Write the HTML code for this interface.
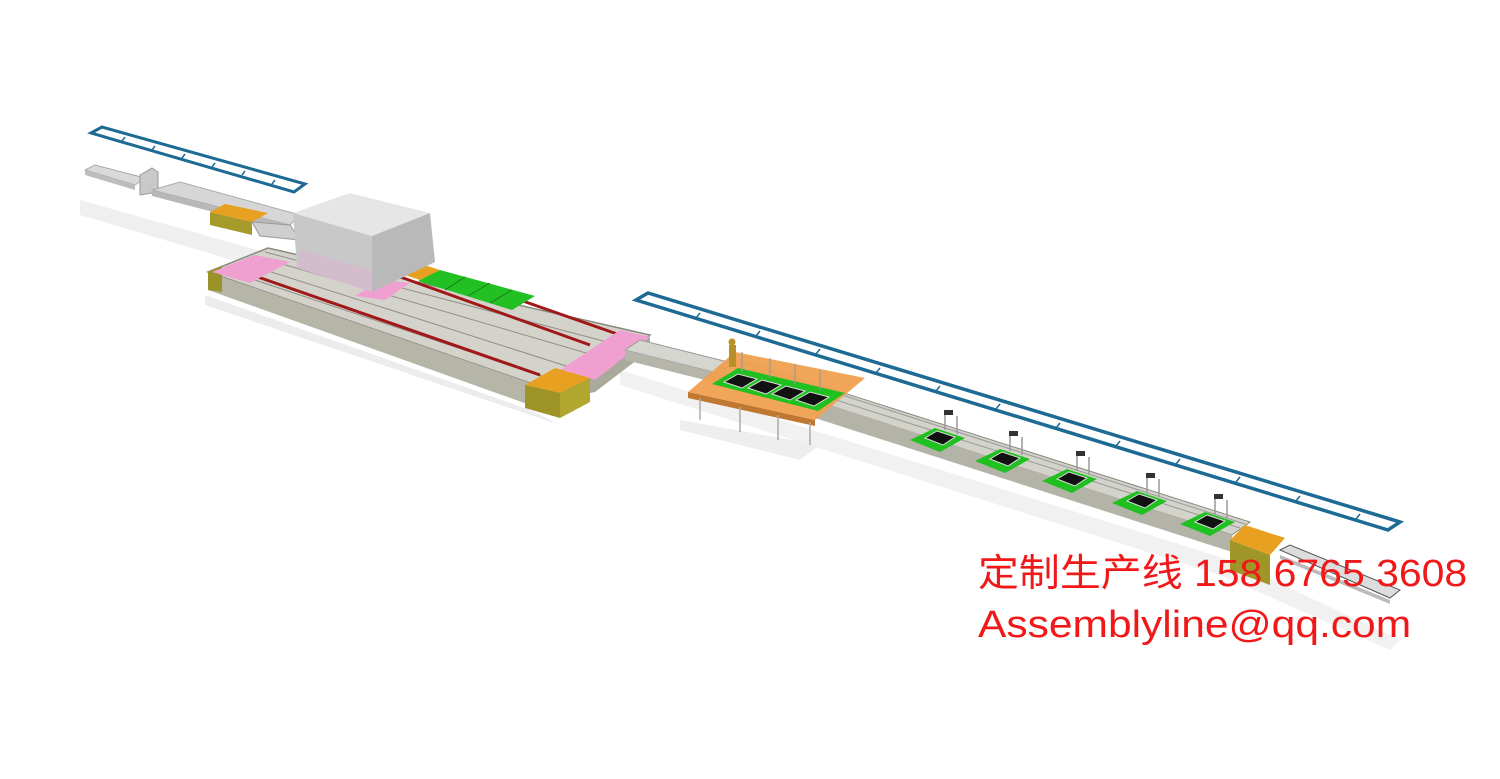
<!DOCTYPE html>
<html><head><meta charset="utf-8"><style>
html,body{margin:0;padding:0;background:#fff;width:1500px;height:779px;overflow:hidden}
svg{position:absolute;left:0;top:0}
.t{position:absolute;left:978px;color:#f01818;font-family:"Liberation Sans","Noto Sans CJK SC",sans-serif;font-size:38px;white-space:nowrap;line-height:1;transform-origin:0 0}
</style></head><body>
<svg width="1500" height="779" viewBox="0 0 1500 779">
<!-- shadows -->
<polygon points="80,200 300,262 300,280 80,215" fill="#efefef"/>
<polygon points="205,295 530,410 560,425 205,305" fill="#ececec"/>
<polygon points="620,370 1230,560 1400,640 1390,650 1220,575 620,385" fill="#f1f1f1"/>
<polygon points="680,420 820,445 800,460 680,430" fill="#eee"/>

<!-- top-left overhead frame -->
<polygon points="91,133 102,127 305,184 294,192" fill="none" stroke="#1d6a94" stroke-width="3"/>
<g stroke="#1d6a94" stroke-width="1.5">
<line x1="125" y1="137" x2="122" y2="141"/><line x1="155" y1="146" x2="152" y2="150"/><line x1="185" y1="154" x2="182" y2="158"/><line x1="215" y1="163" x2="212" y2="167"/><line x1="245" y1="171" x2="242" y2="175"/><line x1="275" y1="180" x2="272" y2="184"/>
</g>

<!-- left small conveyor -->
<polygon points="85,170 95,165 145,178 135,185" fill="#d9d9d9" stroke="#aaa" stroke-width="1"/>
<polygon points="85,170 135,185 135,190 85,175" fill="#bdbdbd"/>
<polygon points="140,175 152,168 158,172 158,192 140,195" fill="#c9c9c9" stroke="#999"/>
<polygon points="152,190 180,182 300,215 290,225" fill="#d6d6d6" stroke="#aaa"/>
<polygon points="152,190 290,225 290,232 152,196" fill="#b8b8b8"/>
<polygon points="210,212 225,204 268,213 252,222" fill="#e8a020"/>
<polygon points="210,212 252,222 252,235 210,225" fill="#a59a2a"/>
<polygon points="252,222 290,225 300,240 260,236" fill="#cfcfcf" stroke="#999"/>

<!-- big platform -->
<polygon points="208,272 268,248 650,335 590,378 530,383" fill="#d3d3cc" stroke="#8a8a80" stroke-width="1.5"/>
<polygon points="208,272 530,383 530,405 208,290" fill="#b5b5a8"/>
<polygon points="530,383 590,378 650,335 650,350 595,392 530,405" fill="#a9a99c"/>
<polygon points="208,272 222,266 222,292 208,290" fill="#9a9328"/>
<g stroke="#8f8f86" stroke-width="1">
<line x1="225" y1="270" x2="560" y2="382"/><line x1="240" y1="262" x2="585" y2="372"/>
<line x1="255" y1="256" x2="610" y2="360"/><line x1="265" y1="252" x2="630" y2="348"/>
</g>
<g stroke="#a01818" stroke-width="3">
<line x1="255" y1="276" x2="540" y2="375"/><line x1="395" y1="275" x2="590" y2="345"/>
<line x1="520" y1="300" x2="620" y2="335"/><line x1="385" y1="262" x2="435" y2="275"/>
</g>
<polygon points="212,272 255,255 290,262 250,283" fill="#f0a0d0"/>
<polygon points="355,296 380,280 410,283 385,300" fill="#f0a0d0"/>
<polygon points="560,370 620,330 650,337 595,380" fill="#f0a0d0"/>
<polygon points="525,385 555,368 590,378 560,393" fill="#e8a020"/>
<polygon points="525,385 560,393 560,418 525,408" fill="#9e9426"/>
<polygon points="560,393 590,378 590,402 560,418" fill="#b0a630"/>
<polygon points="395,272 415,262 440,270 420,280" fill="#e8a020"/>
<polygon points="418,281 440,270 535,296 512,310" fill="#22c022"/>
<g stroke="#1a7a1a" stroke-width="1"><line x1="445" y1="290" x2="465" y2="277"/><line x1="468" y1="296" x2="490" y2="283"/><line x1="490" y1="303" x2="512" y2="290"/></g>

<!-- box -->
<polygon points="293,213 350,193 430,213 372,236" fill="#e6e6e6"/>
<polygon points="293,213 372,236 372,292 297,268" fill="#c8c8c8"/>
<polygon points="372,236 430,213 435,262 372,292" fill="#b9b9b9"/>
<polygon points="300,250 372,270 372,292 297,268" fill="#dbb4cf" opacity="0.6"/>

<!-- middle conveyor -->
<polygon points="625,350 640,340 740,365 725,375" fill="#d6d6d0" stroke="#999"/>
<polygon points="625,350 725,375 725,385 625,360" fill="#b5b5aa"/>

<!-- long conveyor -->
<polygon points="720,372 740,360 1250,522 1232,535" fill="#d3d3cc" stroke="#8a8a80"/>
<polygon points="815,400 1232,535 1232,552 815,418" fill="#b3b3a8"/>
<g stroke="#999" stroke-width="1"><line x1="735" y1="368" x2="1240" y2="528"/><line x1="745" y1="364" x2="1245" y2="524"/></g>
<polygon points="1280,550 1290,545 1400,590 1390,598" fill="#ddd" stroke="#555" stroke-width="1"/>
<polygon points="1280,555 1390,600 1390,604 1280,559" fill="#bbb"/>

<!-- orange table -->
<polygon points="688,392 735,352 865,378 815,420" fill="#f0a050" opacity="0.95"/>
<polygon points="688,392 815,420 815,426 688,398" fill="#c07830"/>
<g stroke="#aaa" stroke-width="1.5"><line x1="700" y1="398" x2="700" y2="420"/><line x1="740" y1="407" x2="740" y2="432"/><line x1="778" y1="415" x2="778" y2="440"/><line x1="810" y1="422" x2="810" y2="445"/></g>
<polygon points="712,384 738,368 845,393 818,411" fill="#20c020"/>
<g fill="#111" stroke="#ddd" stroke-width="1">
<polygon points="724,382 738,374 757,379 742,388"/><polygon points="748,388 762,380 781,385 766,394"/>
<polygon points="772,394 786,386 805,391 790,400"/><polygon points="796,400 810,392 829,397 814,406"/>
</g>
<g stroke="#999" stroke-width="1.2"><line x1="742" y1="372" x2="742" y2="352"/><line x1="770" y1="378" x2="770" y2="358"/><line x1="795" y1="384" x2="795" y2="364"/><line x1="820" y1="390" x2="820" y2="370"/></g>
<rect x="729" y="345" width="7" height="22" fill="#b8902a"/><circle cx="732" cy="342" r="3.5" fill="#b8902a"/>

<!-- green stations -->
<g id="st">
<polygon points="910,440 935,428 965,438 940,452" fill="#20c020"/>
<polygon points="925,438 937,431 955,437 943,445" fill="#111" stroke="#ddd"/>
<line x1="945" y1="430" x2="945" y2="412" stroke="#999" stroke-width="1.5"/><line x1="957" y1="434" x2="957" y2="416" stroke="#999" stroke-width="1.5"/>
<rect x="944" y="410" width="9" height="5" fill="#333"/>
</g>
<use href="#st" x="65" y="21"/><use href="#st" x="132" y="41"/><use href="#st" x="202" y="63"/><use href="#st" x="270" y="84"/>
<polygon points="1230,540 1245,525 1285,538 1270,555" fill="#e8a020"/>
<polygon points="1230,540 1270,555 1270,585 1230,570" fill="#a09628"/>

<!-- right overhead frame -->
<polygon points="636,300 648,293 1400,522 1388,530" fill="none" stroke="#1d6a94" stroke-width="3.5"/>
<g stroke="#1d6a94" stroke-width="1.5">
<line x1="700" y1="313" x2="696" y2="318"/><line x1="760" y1="331" x2="756" y2="336"/><line x1="820" y1="349" x2="816" y2="354"/><line x1="880" y1="368" x2="876" y2="373"/><line x1="940" y1="386" x2="936" y2="391"/><line x1="1000" y1="404" x2="996" y2="409"/><line x1="1060" y1="423" x2="1056" y2="428"/><line x1="1120" y1="441" x2="1116" y2="446"/><line x1="1180" y1="459" x2="1176" y2="464"/><line x1="1240" y1="477" x2="1236" y2="482"/><line x1="1300" y1="496" x2="1296" y2="501"/><line x1="1360" y1="514" x2="1356" y2="519"/>
</g>
</svg>
<div class="t" style="top:555px;transform:scaleX(1.077)">定制生产线 158 6765 3608</div>
<div class="t" style="top:606px;transform:scaleX(1.119)">Assemblyline@qq.com</div>
</body></html>
